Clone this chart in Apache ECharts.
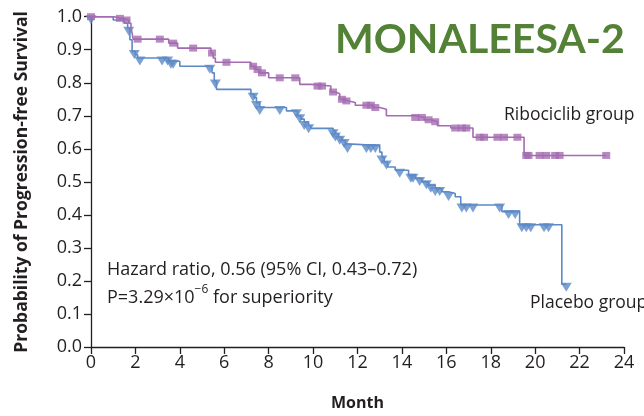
<!DOCTYPE html>
<html>
<head>
<meta charset="utf-8">
<script src="https://cdn.jsdelivr.net/npm/echarts@6/dist/echarts.min.js"></script>
<style>
  html, body { margin: 0; padding: 0; background: #fff; }
  #chart { width: 644px; height: 416px; }
</style>
</head>
<body>
<div id="chart"></div>
<script>
// Kaplan-Meier step events: [month, survival probability from that month on]
const ribociclibSteps = [
  [0, 1.0], [1.0, 0.995], [1.4, 0.99], [1.7, 0.98], [1.8, 0.965], [1.85, 0.95], [1.9, 0.932],
  [3.5, 0.92], [3.9, 0.905], [5.4, 0.89], [5.5, 0.875], [5.6, 0.862],
  [7.2, 0.85], [7.4, 0.84], [7.55, 0.83], [8.0, 0.815], [9.4, 0.795], [9.9, 0.79],
  [10.8, 0.772], [11.0, 0.767], [11.2, 0.75], [11.4, 0.745], [11.6, 0.74], [11.9, 0.732],
  [12.7, 0.725], [13.0, 0.72], [13.3, 0.70], [14.6, 0.695], [15.0, 0.688], [15.3, 0.682],
  [15.6, 0.67], [16.2, 0.663], [17.2, 0.635], [19.5, 0.58]
];
const ribociclibCensored = [
  0, 1.3, 1.6, 2.1, 3.1, 3.7, 4.6, 5.45, 6.1, 7.3, 7.5, 7.7, 8.5, 9.2, 10.2, 10.4, 10.9,
  11.3, 11.5, 12.4, 12.6, 12.8, 14.6, 14.9, 15.2, 15.5, 16.4, 16.7, 16.9, 17.5, 17.7,
  18.3, 18.6, 19.2, 19.6, 19.7, 20.2, 20.5, 20.9, 21.1, 23.2
];

const placeboSteps = [
  [0, 1.0], [1.0, 0.99], [1.5, 0.98], [1.65, 0.965], [1.75, 0.93], [1.85, 0.895], [2.0, 0.885],
  [2.1, 0.875], [3.5, 0.865], [4.0, 0.85], [5.45, 0.83], [5.55, 0.805], [5.65, 0.78],
  [7.2, 0.765], [7.35, 0.755], [7.45, 0.74], [7.6, 0.725], [8.8, 0.715], [9.3, 0.70],
  [9.45, 0.69], [9.6, 0.68], [9.8, 0.67], [9.9, 0.662], [10.9, 0.655], [11.0, 0.645],
  [11.15, 0.635], [11.3, 0.625], [11.45, 0.615], [11.55, 0.61], [13.0, 0.59], [13.1, 0.575],
  [13.2, 0.56], [13.35, 0.545], [13.7, 0.535], [14.3, 0.52], [14.6, 0.51], [14.9, 0.50],
  [15.2, 0.49], [15.5, 0.48], [15.8, 0.47], [16.1, 0.465], [16.4, 0.455], [16.65, 0.43],
  [18.5, 0.41], [19.3, 0.37], [21.2, 0.19]
];
const placeboCensored = [
  0, 1.7, 1.95, 2.2, 3.2, 3.45, 3.6, 3.7, 5.35, 5.6, 7.3, 7.45, 7.6, 8.5, 9.25, 9.4, 9.6,
  9.8, 10.9, 11.0, 11.2, 11.4, 11.55, 12.4, 12.6, 12.8, 13.1, 13.3, 13.9, 14.4, 14.5, 14.8,
  15.1, 15.3, 15.5, 15.7, 16.1, 16.7, 16.9, 17.2, 18.4, 18.8, 19.1, 19.4, 19.6, 19.8,
  20.4, 20.6, 21.4
];

const purple = '#a46bb0';
const blue = '#5b8ac7';
const ink = '#231f20';
const textFont = '"Open Sans", "DejaVu Sans", sans-serif';

// survival value of a step curve at a given month
function survivalAt(steps, t) {
  let s = steps[0][1];
  for (const [ti, si] of steps) { if (ti <= t) s = si; else break; }
  return s;
}
// step line runs on to the last censored time
function curve(steps, censored) {
  const pts = steps.map(p => p.slice());
  const last = censored[censored.length - 1];
  pts.push([last, survivalAt(steps, last)]);
  return pts;
}
function marks(steps, censored) {
  return censored.map(t => [t, survivalAt(steps, t)]);
}

const chart = echarts.init(document.getElementById('chart'), null, { renderer: 'canvas' });
chart.setOption({
  animation: false,
  backgroundColor: '#ffffff',
  grid: { left: 91, right: 20, top: 16.7, bottom: 66, containLabel: false },
  xAxis: {
    type: 'value', min: 0, max: 24, interval: 2,
    name: 'Month', nameLocation: 'middle', nameGap: 48,
    nameTextStyle: { fontFamily: textFont, fontWeight: 'bold', fontSize: 16, color: ink },
    axisLine: { lineStyle: { color: ink, width: 1.3 } },
    axisTick: { length: 7, lineStyle: { color: ink, width: 1.3 } },
    axisLabel: { fontFamily: textFont, fontSize: 18, color: ink, margin: 7 },
    splitLine: { show: false }
  },
  yAxis: {
    type: 'value', min: 0, max: 1, interval: 0.1,
    name: 'Probability of Progression-free Survival', nameLocation: 'middle', nameGap: 60,
    nameTextStyle: { fontFamily: textFont, fontWeight: 'bold', fontSize: 17.5, color: ink },
    axisLine: { show: true, lineStyle: { color: ink, width: 1.3 } },
    axisTick: { show: true, length: 7, lineStyle: { color: ink, width: 1.3 } },
    axisLabel: { fontFamily: textFont, fontSize: 18, color: ink, margin: 9,
      formatter: v => v.toFixed(1) },
    splitLine: { show: false }
  },
  series: [
    { name: 'Placebo', type: 'line', step: 'end', data: curve(placeboSteps, placeboCensored),
      showSymbol: false, lineStyle: { color: blue, width: 1.6 }, z: 2 },
    { name: 'Placebo censored', type: 'scatter', data: marks(placeboSteps, placeboCensored),
      symbol: 'triangle', symbolRotate: 180, symbolSize: [11, 9], symbolOffset: [0, 3],
      itemStyle: { color: blue }, z: 3 },
    { name: 'Ribociclib', type: 'line', step: 'end', data: curve(ribociclibSteps, ribociclibCensored),
      showSymbol: false, lineStyle: { color: purple, width: 1.6 }, z: 4 },
    { name: 'Ribociclib censored', type: 'scatter', data: marks(ribociclibSteps, ribociclibCensored),
      symbol: 'rect', symbolSize: [8, 7],
      itemStyle: { color: purple }, z: 5 }
  ],
  graphic: [
    { type: 'text', left: 335, top: 19,
      style: { text: 'MONALEESA-2', fill: '#538135', font: 'bold 41px Lato, "Open Sans", sans-serif' } },
    { type: 'text', left: 504, top: 106,
      style: { text: 'Ribociclib group', fill: ink, font: '17.5px ' + textFont } },
    { type: 'text', left: 530, top: 294,
      style: { text: 'Placebo group', fill: ink, font: '17.5px ' + textFont } },
    { type: 'text', left: 107, top: 261,
      style: { text: 'Hazard ratio, 0.56 (95% CI, 0.43\u20130.72)', fill: ink, font: '18px ' + textFont } },
    { type: 'text', left: 107, top: 284,
      style: {
        text: '{b|P=3.29\u00d710}{s|\u22126}{b| for superiority}',
        rich: {
          b: { fontFamily: textFont, fontSize: 18, fill: ink, color: ink, verticalAlign: 'bottom', lineHeight: 23 },
          s: { fontFamily: textFont, fontSize: 12, fill: ink, color: ink, verticalAlign: 'top', lineHeight: 13 }
        }
      } }
  ]
});
</script>
</body>
</html>
